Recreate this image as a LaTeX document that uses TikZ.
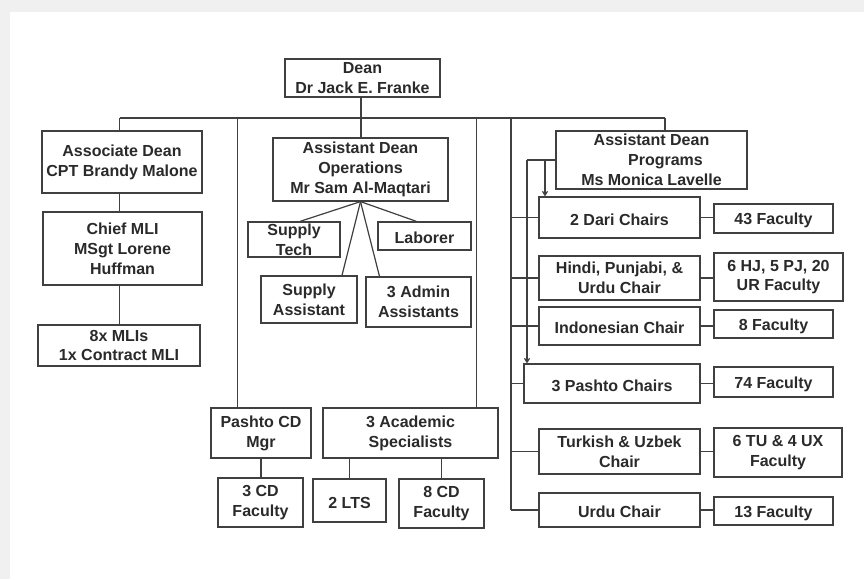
\documentclass[tikz,border=0pt]{standalone}
\usepackage{fontspec}
\setmainfont{Liberation Sans}
\usetikzlibrary{arrows.meta}
\definecolor{ink}{HTML}{2A2A2A}
\definecolor{edge}{HTML}{404040}
\newcommand{\lowr}[1]{\raisebox{-2pt}[\height][\depth]{#1}}
\begin{document}
\begin{tikzpicture}[x=1pt,y=-1pt,
  box/.style={draw=edge, line width=1.2pt, rectangle, inner sep=0pt, align=center,
    text=ink, font=\fontsize{16}{19.8}\selectfont\bfseries},
  link/.style={draw=edge, line width=1.2pt},
  arr/.style={link, -{Straight Barb[length=4pt,width=5pt]}}]
\useasboundingbox (0,0) rectangle (864,579);
\fill[black!6] (0,0) rectangle (864,579);
\fill[white] (10,12) rectangle (864,579);

% top
\node[box, minimum width=155, minimum height=38] (dean) at (362.5,78) {Dean\\Dr Jack E. Franke};

% left column
\node[box, minimum width=160, minimum height=62] (assoc) at (122,162) {Associate Dean\\CPT Brandy Malone};
\node[box, minimum width=159, minimum height=73] (chief) at (122.5,248.5) {Chief MLI\\MSgt Lorene\\Huffman};
\node[box, minimum width=162, minimum height=41] (mlis) at (119,345.5) {8x MLIs\\1x Contract MLI};

% operations
\node[box, minimum width=175, minimum height=63] (ops) at (360.5,169.5) {Assistant Dean\\Operations\\Mr Sam Al-Maqtari};
\node[box, minimum width=92, minimum height=35] (stech) at (294,239.5) {Supply\\Tech};
\node[box, minimum width=93, minimum height=28] (lab) at (424.5,236) {\lowr{Laborer}};
\node[box, minimum width=96, minimum height=47] (sasst) at (309,299.5) {Supply\\Assistant};
\node[box, minimum width=105, minimum height=50] (admin) at (418.5,302) {3 Admin\\Assistants};

% bottom middle
\node[box, minimum width=100, minimum height=50] (pcd) at (261,433) {Pashto CD\\Mgr};
\node[box, minimum width=175, minimum height=50] (acad) at (410.5,433) {3 Academic\\Specialists};
\node[box, minimum width=85, minimum height=49] (cdf3) at (260.5,502.5) {3 CD\\Faculty};
\node[box, minimum width=73, minimum height=43] (lts) at (349.5,500.5) {\lowr{2 LTS}};
\node[box, minimum width=85, minimum height=49] (cdf8) at (441.5,503.5) {8 CD\\Faculty};

% programs
\node[box, minimum width=191, minimum height=58] (prog) at (651.5,160) {Assistant Dean\\\hspace*{28pt}Programs\\Ms Monica Lavelle};
\node[box, minimum width=161, minimum height=41] (dari) at (619.5,217.5) {\lowr{2 Dari Chairs}};
\node[box, minimum width=119, minimum height=29] (f43) at (773.5,218.5) {\lowr{43 Faculty}};
\node[box, minimum width=161, minimum height=44] (hindi) at (619.5,278) {Hindi, Punjabi, \&\\Urdu Chair};
\node[box, minimum width=129, minimum height=48] (f6hj) at (778.5,277) {6 HJ, 5 PJ, 20\\UR Faculty};
\node[box, minimum width=161, minimum height=38] (indo) at (619.5,326) {\lowr{Indonesian Chair}};
\node[box, minimum width=119, minimum height=28] (f8) at (773.5,324) {\lowr{8 Faculty}};
\node[box, minimum width=176, minimum height=39] (pashto) at (612,383.5) {\lowr{3 Pashto Chairs}};
\node[box, minimum width=119, minimum height=30] (f74) at (773.5,382) {\lowr{74 Faculty}};
\node[box, minimum width=161, minimum height=45] (turk) at (619.5,451.5) {Turkish \& Uzbek\\Chair};
\node[box, minimum width=128, minimum height=49] (f6tu) at (778,452.5) {6 TU \& 4 UX\\Faculty};
\node[box, minimum width=161, minimum height=34] (urdu) at (619.5,510) {\lowr{Urdu Chair}};
\node[box, minimum width=119, minimum height=28] (f13) at (773.5,511) {\lowr{13 Faculty}};

% bus
\coordinate (b1) at (119.5,118);
\coordinate (b2) at (237.7,118);
\coordinate (b3) at (476.5,118);
\coordinate (b4) at (511,118);
\coordinate (b5) at (665,118);
\coordinate (bd) at (361,118);
\draw[link] (b1) -- (b5);
\draw[link] (dean.south -| bd) -- (ops.north -| bd);
\draw[link] (b1) -- (b1 |- assoc.north);
\draw[link] (b5) -- (b5 |- prog.north);
\draw[link] (b2) -- (b2 |- pcd.north);
\draw[link] (b3) -- (b3 |- acad.north);

% left column links
\draw[link] (assoc.south -| b1) -- (chief.north -| b1);
\draw[link] (chief.south -| b1) -- (mlis.north -| b1);

% operations fan
\draw[link] (ops.south) -- ([xshift=6pt]stech.north);
\draw[link] (ops.south) -- ([xshift=-8pt]lab.north);
\draw[link] (ops.south) -- ([xshift=33pt]sasst.north);
\draw[link] (ops.south) -- ([xshift=-39pt]admin.north);

% bottom links
\draw[link] (pcd.south) -- (cdf3.north -| pcd.south);
\draw[link] (lts.north |- acad.south) -- (lts.north);
\draw[link] (cdf8.north |- acad.south) -- (cdf8.north);

% programs spine
\draw[link] (b4) -- (b4 |- urdu.west);
\foreach \c in {dari,hindi,indo,pashto,turk,urdu}{
  \draw[link] (b4 |- \c.west) -- (\c.west);
}
\draw[link] (dari.east) -- (dari.east -| f43.west);
\draw[link] (hindi.east) -- (hindi.east -| f6hj.west);
\draw[link] (indo.east) -- (indo.east -| f8.west);
\draw[link] (pashto.east) -- (pashto.east -| f74.west);
\draw[link] (turk.east) -- (turk.east -| f6tu.west);
\draw[link] (urdu.east) -- (urdu.east -| f13.west);

% programs arrows
\coordinate (pj) at (527,160);
\coordinate (pk) at (545,160);
\draw[link] (prog.west |- pj) -- (pj);
\draw[arr] (pj) -- (pj |- pashto.north);
\draw[arr] (pk) -- (pk |- dari.north);
\end{tikzpicture}
\end{document}
